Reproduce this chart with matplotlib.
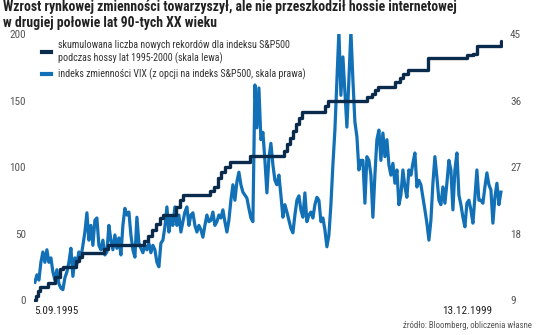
import pandas as pd
import matplotlib.pyplot as plt
from matplotlib.lines import Line2D
from matplotlib import font_manager

# pick the narrowest installed sans family
_available = {f.name for f in font_manager.fontManager.ttflist}
NARROW = [f for f in ['Roboto Condensed', 'Liberation Sans Narrow', 'Roboto']
          if f in _available] + ['DejaVu Sans']

# cumulative number of new S&P500 record closes (left axis)
record_dates = [
    '1995-09-05', '1995-09-12', '1995-09-18', '1995-09-25', '1995-10-22',
    '1995-11-14', '1995-12-01', '1995-12-11', '1996-01-23', '1996-02-02',
    '1996-02-12', '1996-04-26', '1996-05-09', '1996-09-06', '1996-09-20',
    '1996-10-03', '1996-10-16', '1996-10-30', '1996-11-09', '1996-12-22',
    '1997-01-05', '1997-01-15', '1997-04-15', '1997-04-28', '1997-05-12',
    '1997-05-22', '1997-06-04', '1997-06-21', '1997-08-26', '1997-12-18',
    '1997-12-28', '1998-01-07', '1998-01-17', '1998-01-27', '1998-02-06',
    '1998-02-16', '1998-05-04', '1998-05-14', '1998-09-21', '1998-10-08',
    '1998-10-18', '1998-10-28', '1998-12-24', '1999-01-09', '1999-01-19',
    '1999-02-05', '1999-04-13', '1999-08-21', '1999-09-10', '1999-09-24',
    '1999-12-13',
]
record_counts = [
    0, 3, 7, 10, 13, 17, 23, 25, 29, 32,
    35, 38, 41, 44, 48, 53, 57, 62, 64, 70,
    75, 79, 82, 85, 92, 96, 100, 104, 108, 112,
    117, 122, 127, 132, 137, 141, 146, 150, 153, 155,
    158, 160, 164, 167, 170, 173, 182, 184, 185, 191,
    195,
]

# VIX readings, evenly spaced between the first and last date (right axis)
vix_start, vix_end = '1995-09-08', '1999-12-13'
vix = [
    11.4, 12.4, 11.7, 14.1, 15.5, 14.1, 15.8, 14.1, 14.7, 12.8,
    11.7, 13.1, 11.2, 10.6, 10.4, 12.0, 12.8, 14.1, 16.0, 12.2,
    14.7, 13.9, 15.5, 14.7, 16.4, 18.2, 20.8, 17.1, 19.1, 16.4,
    19.8, 20.1, 16.4, 15.8, 17.1, 15.1, 15.5, 19.1, 17.1, 15.8,
    17.8, 16.0, 17.4, 15.1, 19.1, 21.4, 20.5, 20.9, 17.8, 15.8,
    14.8, 20.2, 16.7, 16.0, 15.4, 16.4, 15.8, 16.7, 15.4, 16.4,
    15.8, 14.1, 13.5, 16.7, 17.1, 18.9, 21.6, 18.2, 20.1, 19.1,
    21.6, 19.1, 20.5, 18.2, 19.6, 20.9, 21.6, 19.1, 20.5, 20.8,
    19.1, 18.2, 19.1, 18.5, 17.5, 19.1, 20.5, 19.6, 19.8, 20.9,
    19.1, 19.6, 20.5, 20.1, 21.2, 19.6, 18.2, 19.8, 22.5, 24.6,
    22.5, 25.0, 26.3, 24.6, 23.6, 23.2, 22.8, 21.4, 20.1, 19.6,
    38.1, 32.3, 37.7, 30.7, 31.7, 27.9, 23.5, 28.2, 30.2, 27.3,
    25.2, 24.6, 25.9, 23.2, 20.2, 21.9, 20.9, 19.8, 18.7, 18.1,
    20.5, 22.5, 23.1, 21.2, 20.2, 23.5, 19.6, 20.5, 20.9, 20.1,
    21.9, 22.9, 22.5, 19.6, 20.1, 18.5, 16.2, 17.8, 21.9, 27.3,
    32.0, 38.8, 45.4, 36.7, 41.9, 37.1, 32.4, 38.8, 45.4, 38.8,
    33.1, 31.1, 26.6, 27.9, 27.9, 22.1, 28.4, 27.9, 25.9, 20.2,
    25.9, 30.7, 32.0, 27.9, 31.6, 28.4, 30.7, 27.3, 25.9, 27.5,
    24.8, 26.6, 21.9, 23.2, 26.6, 24.3, 22.9, 26.6, 25.9, 27.5,
    28.9, 24.3, 25.2, 24.6, 22.9, 21.2, 19.4, 17.1, 19.8, 24.8,
    28.4, 25.6, 22.5, 21.9, 24.3, 22.1, 24.8, 27.9, 26.6, 21.2,
    26.6, 28.9, 23.2, 21.9, 20.2, 18.9, 22.1, 22.5, 21.2, 19.4,
    22.9, 26.6, 22.5, 22.5, 22.1, 24.3, 26.2, 24.6, 23.9, 19.4,
    22.9, 24.8, 21.9, 23.6,
]

left_ticks = [0, 50, 100, 150, 200]
right_ticks = [9, 18, 27, 36, 45]

title = ('Wzrost rynkowej zmienności towarzyszył, ale nie przeszkodził hossie internetowej\n'
         'w drugiej połowie lat 90-tych XX wieku')
label_records = ('skumulowana liczba nowych rekordów dla indeksu S&P500\n'
                 'podczas hossy lat 1995-2000 (skala lewa)')
label_vix = 'indeks zmienności VIX (z opcji na indeks S&P500, skala prawa)'

navy = '#0b2b4c'
blue = '#1170b6'
grey_text = '#555555'

rec_x = pd.to_datetime(record_dates)
vix_x = pd.date_range(vix_start, vix_end, periods=len(vix))

fig = plt.figure(figsize=(5.36, 3.35), dpi=100)
ax = fig.add_axes([34 / 536, 33 / 335, 469 / 536, 268 / 335])
ax2 = ax.twinx()
ax.set_zorder(ax2.get_zorder() + 1)
ax.patch.set_visible(False)
ax2.set_facecolor('#f2f2f2')

ax2.plot(vix_x, vix, color=blue, lw=2.3, solid_joinstyle='round')
ax.plot(rec_x, record_counts, color=navy, lw=2.4, drawstyle='steps-post',
        solid_capstyle='round')

ax.set_xlim(pd.Timestamp('1995-09-05'), pd.Timestamp('1999-12-20'))
ax.set_ylim(-1.5, 200)
ax2.set_ylim(9 - 1.5 * 36 / 200, 45)
ax.set_yticks(left_ticks)
ax2.set_yticks(right_ticks)
ax.set_xticks([])

for a in (ax, ax2):
    for s in a.spines.values():
        s.set_visible(False)
    a.tick_params(length=0, labelsize=8, colors=grey_text)
    for lab in a.get_yticklabels():
        lab.set_family(NARROW)
ax.tick_params(axis='y', pad=6)
ax2.tick_params(axis='y', pad=5)

fig.text(3 / 536, 1 - 0.5 / 335, title, ha='left', va='top', fontsize=9.9,
         fontweight='bold', family=NARROW, color='#222222', linespacing=1.15)

handles = [Line2D([0], [0], color=navy, lw=3),
           Line2D([0], [0], color=blue, lw=3)]
ax.legend(handles, [label_records, label_vix], loc='upper left',
          bbox_to_anchor=(-0.002, 1.01), frameon=False, handlelength=0.9,
          handletextpad=0.7, labelspacing=0.5,
          prop={'family': NARROW, 'size': 7.2}, labelcolor='#333333')

fig.text(34 / 536, 1 - 311 / 335, '5.09.1995', ha='left', va='center',
         fontsize=8, family=NARROW, color='#222222')
fig.text(492 / 536, 1 - 311 / 335, '13.12.1999', ha='right', va='center',
         fontsize=8, family=NARROW, color='#222222')
fig.text(532 / 536, 1 - 326 / 335, 'źródło: Bloomberg, obliczenia własne',
         ha='right', va='center', fontsize=6.3, family=NARROW, color=grey_text)

fig.savefig('out.png', dpi=100)
